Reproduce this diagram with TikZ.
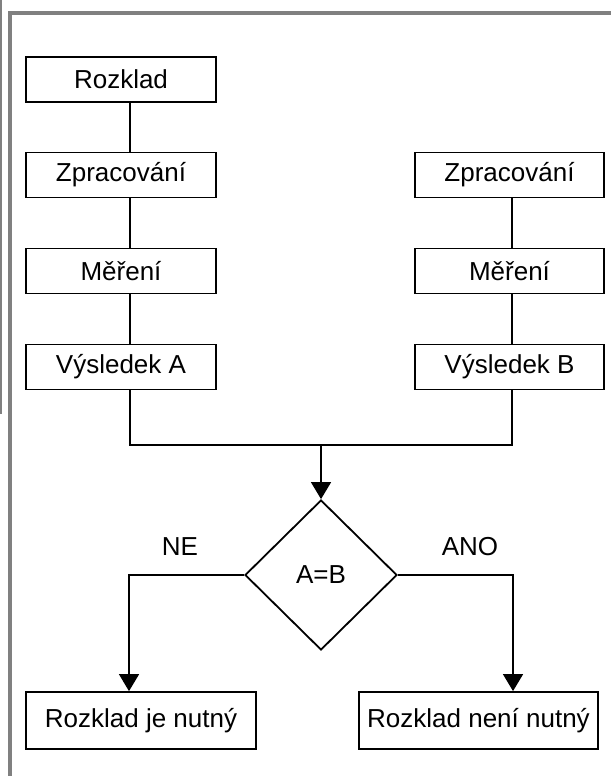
\documentclass[tikz,border=0pt]{standalone}
\usepackage{fontspec}
\setmainfont{Liberation Sans}
\usetikzlibrary{arrows.meta,shapes.geometric}
\definecolor{framegray}{RGB}{128,128,128}
\begin{document}
\begin{tikzpicture}[x=1pt,y=-1pt,
  box/.style={draw,line width=1.8pt,rectangle,inner sep=0pt,minimum height=45pt,font=\fontsize{26}{30}\selectfont},
  colbox/.style={box,minimum width=190pt},
  conn/.style={line width=1.5pt},
  arr/.style={conn,-{Triangle[width=20pt,length=17pt]}},
  lbl/.style={font=\fontsize{26}{30}\selectfont}]
\useasboundingbox (0,0) rectangle (611,776);
\fill[white] (0,0) rectangle (611,776);
% frame
\draw[framegray,line width=4pt] (10,776) -- (10,13) -- (611,13);
\draw[framegray,line width=2pt] (1,0) -- (1,414);
% column coordinates
\coordinate (lx) at (130,0);
\coordinate (rx) at (512,0);
\coordinate (cx) at (321,445);
% left column
\node[colbox] (rozklad) at (121,79.5) {Rozklad};
\node[colbox] (zprA) at (121,175) {Zpracování};
\node[colbox] (merA) at (121,271) {Měření};
\node[colbox] (vysA) at (121,367) {Výsledek A};
% right column
\node[colbox,minimum width=189pt] (zprB) at (509.5,175) {Zpracování};
\node[colbox,minimum width=189pt] (merB) at (509.5,271) {Měření};
\node[colbox,minimum width=189pt] (vysB) at (509.5,367) {Výsledek B};
% diamond
\node[draw,diamond,line width=1.8pt,minimum width=152pt,minimum height=150pt,inner sep=0pt,font=\fontsize{26}{30}\selectfont] (dec) at (321,575) {A=B};
% bottom boxes
\node[box,minimum width=230pt,minimum height=57pt] (ne) at (141,720.5) {Rozklad je nutný};
\node[box,minimum width=239pt,minimum height=57pt] (ano) at (478.5,720.5) {Rozklad není nutný};
% connectors
\draw[conn] (rozklad.south -| lx) -- (zprA.north -| lx);
\draw[conn] (zprA.south -| lx) -- (merA.north -| lx);
\draw[conn] (merA.south -| lx) -- (vysA.north -| lx);
\draw[conn] (zprB.south -| rx) -- (merB.north -| rx);
\draw[conn] (merB.south -| rx) -- (vysB.north -| rx);
\draw[conn] (vysA.south -| lx) |- (cx) -| (vysB.south -| rx);
\draw[arr] (cx) -- (dec.north);
\coordinate (bl) at (129,0);
\coordinate (br) at (513,0);
\draw[arr] (dec.west) -| (ne.north -| bl);
\draw[arr] (dec.east) -| (ano.north -| br);
% labels
\node[lbl] (lne) at (180,547) {NE};
\node[lbl] (lano) at (470,547) {ANO};
\end{tikzpicture}
\end{document}
